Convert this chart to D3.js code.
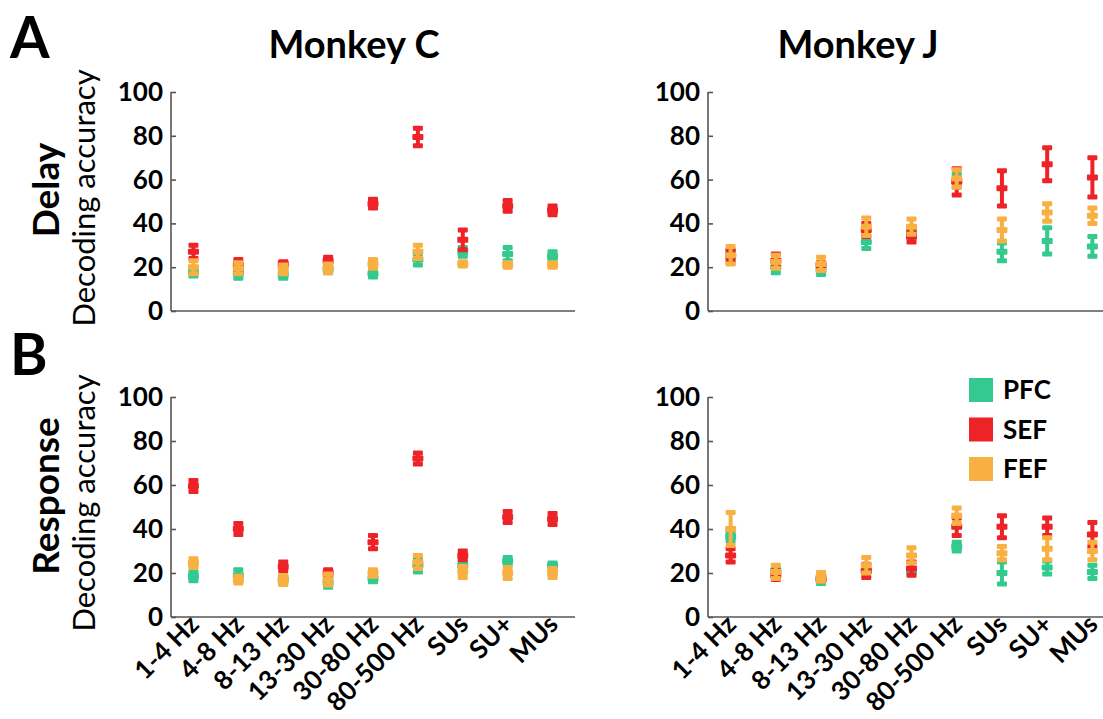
<!DOCTYPE html>
<html>
<head>
<meta charset="utf-8">
<script src="https://cdn.jsdelivr.net/npm/d3@7"></script>
<style>
  html, body { margin: 0; padding: 0; background: #fff; }
  svg { display: block; }
  text { font-family: Lato, "Open Sans", sans-serif; fill: #000; }
</style>
</head>
<body>
<svg id="chart" width="1103" height="719"></svg>
<script>
// Frequency bands and unit types on the x axis
const categories = ["1-4 Hz", "4-8 Hz", "8-13 Hz", "13-30 Hz", "30-80 Hz", "80-500 Hz", "SUs", "SU+", "MUs"];
const yTicks = [0, 20, 40, 60, 80, 100];
const areas = ["PFC", "SEF", "FEF"];
const areaColors = ["#33c98f", "#ee2327", "#f8b043"];

// Delay epoch, Monkey C (mean and error, % correct)
const pfcDelayC = [18, 17, 16.5, 19, 17, 23.5, 27, 26, 25];
const pfcDelayCErr = [2, 2, 1.5, 1.5, 1.5, 2.5, 2, 3, 2];
const sefDelayC = [27, 21, 21.5, 23, 49, 79.5, 32.5, 48, 46];
const sefDelayCErr = [3, 2.5, 1, 1.5, 2, 4, 4.5, 2.5, 2];
const fefDelayC = [20, 19.5, 19, 19.5, 21.5, 27, 21.5, 21, 21];
const fefDelayCErr = [3, 2.5, 2, 2, 2, 3, 1, 1, 1];

// Delay epoch, Monkey J
const pfcDelayJ = [25, 20, 18.7, 31.5, 35.5, 59.5, 27, 32, 29.5];
const pfcDelayJErr = [3, 2.5, 2, 3, 2, 3, 4, 6, 4.5];
const sefDelayJ = [25.5, 23, 21, 37, 34, 59, 56, 67, 61];
const sefDelayJErr = [2, 3, 1, 3, 2.5, 6, 8, 7.5, 9];
const fefDelayJ = [25.5, 22.5, 21.5, 38.5, 38.5, 60.5, 37, 45, 43.5];
const fefDelayJErr = [4, 3, 3, 4, 3.5, 4, 5, 4, 3.5];

// Response epoch, Monkey C
const pfcRespC = [18.5, 19, 17, 15.5, 17.5, 23.5, 23.5, 25.5, 23.5];
const pfcRespCErr = [2, 2.5, 1.5, 2, 1.5, 3, 1.5, 1.5, 1];
const sefRespC = [59.5, 40, 23, 20, 34, 72, 28, 45.5, 44.5];
const sefRespCErr = [2.5, 2.5, 2, 1.5, 3, 2.5, 2, 2.5, 2.5];
const fefRespC = [24.5, 17, 16.8, 17, 20, 25, 20.5, 20, 20];
const fefRespCErr = [2, 1.5, 2, 2.5, 1.5, 3, 2.5, 2.5, 2];

// Response epoch, Monkey J
const pfcRespJ = [36.5, 21, 16.7, 21, 21, 32, 20, 22.5, 20.5];
const pfcRespJErr = [2, 1, 1.5, 1, 1, 2, 5, 3, 3];
const sefRespJ = [28, 19, 17.5, 21, 22, 41, 41, 41, 37.5];
const sefRespJErr = [3, 2, 1, 3, 3, 4, 5, 4, 5.5];
const fefRespJ = [40, 20.5, 18.2, 23.5, 28, 46, 29, 31, 30];
const fefRespJErr = [7.5, 3, 2, 3.5, 3.5, 3.5, 3, 5, 4];

const svg = d3.select("#chart");

const panels = [
  { x0: 171, x1: 575, yTop: 92, yBot: 311, labels: false,
    series: [[pfcDelayC, pfcDelayCErr], [sefDelayC, sefDelayCErr], [fefDelayC, fefDelayCErr]] },
  { x0: 708, x1: 1115, yTop: 92, yBot: 311, labels: false,
    series: [[pfcDelayJ, pfcDelayJErr], [sefDelayJ, sefDelayJErr], [fefDelayJ, fefDelayJErr]] },
  { x0: 171, x1: 575, yTop: 397, yBot: 617, labels: true,
    series: [[pfcRespC, pfcRespCErr], [sefRespC, sefRespCErr], [fefRespC, fefRespCErr]] },
  { x0: 708, x1: 1115, yTop: 397, yBot: 617, labels: true,
    series: [[pfcRespJ, pfcRespJErr], [sefRespJ, sefRespJErr], [fefRespJ, fefRespJErr]] }
];

panels.forEach(p => {
  const x = d3.scalePoint().domain(categories).range([p.x0, p.x1]).padding(0.5);
  const y = d3.scaleLinear().domain([0, 100]).range([p.yBot, p.yTop]);
  const g = svg.append("g");

  // y axis: line with inward ticks, bold labels
  const yAxis = g.append("g")
    .attr("transform", `translate(${p.x0},0)`)
    .call(d3.axisRight(y).tickValues(yTicks).tickSize(5).tickFormat(""));
  yAxis.select(".domain").attr("stroke", "#555").attr("stroke-width", 1.6).attr("d", `M0,${y(100)}V${y(0)}`);
  yAxis.selectAll(".tick line").attr("stroke", "#555").attr("stroke-width", 1.6);
  g.selectAll(".ylab").data(yTicks).join("text")
    .attr("x", p.x0 - 8).attr("y", d => y(d) + 9)
    .attr("text-anchor", "end").attr("font-size", 26).attr("font-weight", 700)
    .text(d => d);

  // x axis: baseline only, rotated labels on the bottom row
  const xAxis = g.append("g")
    .attr("transform", `translate(0,${p.yBot})`)
    .call(d3.axisBottom(x).tickSize(0).tickFormat(""));
  xAxis.select(".domain").attr("stroke", "#555").attr("stroke-width", 1.6).attr("d", `M${p.x0},0H${p.x1}`);
  if (p.labels) {
    g.selectAll(".xlab").data(categories).join("text")
      .attr("transform", d => `translate(${x(d) + 7},${p.yBot + 9}) rotate(-45)`)
      .attr("text-anchor", "end").attr("font-size", 26).attr("font-weight", 700)
      .text(d => d);
  }

  // error bars with caps and a mean marker, one group per area
  p.series.forEach((s, si) => {
    const [vals, errs] = s;
    const color = areaColors[si];
    const pts = categories.map((c, i) => ({ c, v: vals[i], e: errs[i] }));
    const sg = g.append("g").attr("fill", color);
    sg.selectAll(".stem").data(pts).join("rect")
      .attr("x", d => x(d.c) - 2).attr("width", 4)
      .attr("y", d => y(d.v + d.e)).attr("height", d => y(d.v - d.e) - y(d.v + d.e));
    sg.selectAll(".capTop").data(pts).join("rect")
      .attr("x", d => x(d.c) - 5).attr("width", 10)
      .attr("y", d => y(d.v + d.e) - 2.5).attr("height", 5).attr("rx", 1);
    sg.selectAll(".capBot").data(pts).join("rect")
      .attr("x", d => x(d.c) - 5).attr("width", 10)
      .attr("y", d => y(d.v - d.e) - 2.5).attr("height", 5).attr("rx", 1);
    sg.selectAll(".mean").data(pts).join("rect")
      .attr("x", d => x(d.c) - 5.5).attr("width", 11)
      .attr("y", d => y(d.v) - 3).attr("height", 6).attr("rx", 1);
  });
});

// Column titles
svg.append("text").attr("x", 354).attr("y", 58).attr("text-anchor", "middle")
  .attr("font-size", 38).attr("font-weight", 700).text("Monkey C");
svg.append("text").attr("x", 858).attr("y", 58).attr("text-anchor", "middle")
  .attr("font-size", 38).attr("font-weight", 700).text("Monkey J");

// Panel letters
svg.append("text").attr("x", 10).attr("y", 58).attr("font-size", 57).attr("font-weight", 700).text("A");
svg.append("text").attr("x", 10).attr("y", 375).attr("font-size", 57).attr("font-weight", 700).text("B");

// Row labels
function rowLabel(cy, cyAxis, title) {
  svg.append("text").attr("transform", `translate(59,${cy}) rotate(-90)`)
    .attr("text-anchor", "middle").attr("font-size", 37).attr("font-weight", 700).text(title);
  svg.append("text").attr("transform", `translate(95,${cyAxis}) rotate(-90)`)
    .attr("text-anchor", "middle").attr("font-size", 31).attr("font-weight", 400).text("Decoding accuracy");
}
rowLabel(190, 198, "Delay");
rowLabel(496, 503, "Response");

// Legend
const legend = svg.append("g");
areas.forEach((a, i) => {
  legend.append("rect").attr("x", 969).attr("y", 378 + i * 39.5).attr("width", 24).attr("height", 24)
    .attr("fill", areaColors[i]);
  legend.append("text").attr("x", 1003).attr("y", 399 + i * 39.5)
    .attr("font-size", 26).attr("font-weight", 700).text(a);
});
</script>
</body>
</html>
